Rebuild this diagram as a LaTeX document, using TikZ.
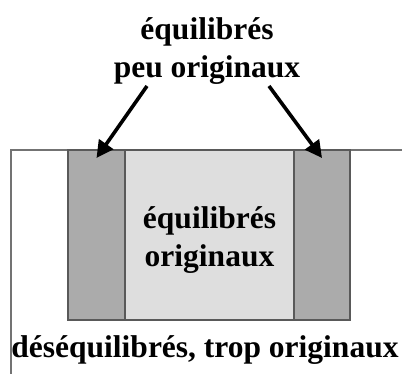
\documentclass[tikz,border=0pt]{standalone}
\usepackage{fontspec}
\setmainfont{Liberation Serif}
\usetikzlibrary{arrows.meta,positioning}

\begin{document}
\begin{tikzpicture}[
    x=1pt, y=-1pt,
    band/.style={draw=black!65, line width=1.4pt, inner sep=0pt, outer sep=0pt, minimum height=170pt},
    side/.style={band, fill=black!33},
    core/.style={band, fill=black!13},
    label/.style={font=\bfseries\fontsize{31.5}{38.5}\selectfont, align=center, inner sep=0pt},
    pointer/.style={line width=3.6pt, -{Triangle[length=17pt, width=17pt]}}
]
\useasboundingbox (0,0) rectangle (402,374);

% Frame
\draw[black!55, line width=2pt] (402,150.5) -- (11,150.5) -- (11,374);

% Bands
\node[side, minimum width=57pt] (leftband) at (96.5,235) {};
\node[core, minimum width=169pt] (midband) at (209.5,235) {};
\node[side, minimum width=56pt] (rightband) at (322,235) {};

% Labels
\node[label] (toplabel) at (207,51) {équilibrés\\peu originaux};
\node[label] (midlabel) at (209.5,240) {équilibrés\\originaux};
\node[label] (botlabel) at (205,350) {déséquilibrés, trop originaux};

% Arrows
\coordinate (lstart) at (147,86);
\coordinate (rstart) at (269,86);
\draw[pointer] (lstart) -- ([yshift=-8pt]leftband.north);
\draw[pointer] (rstart) -- ([yshift=-8pt]rightband.north);

\end{tikzpicture}
\end{document}
